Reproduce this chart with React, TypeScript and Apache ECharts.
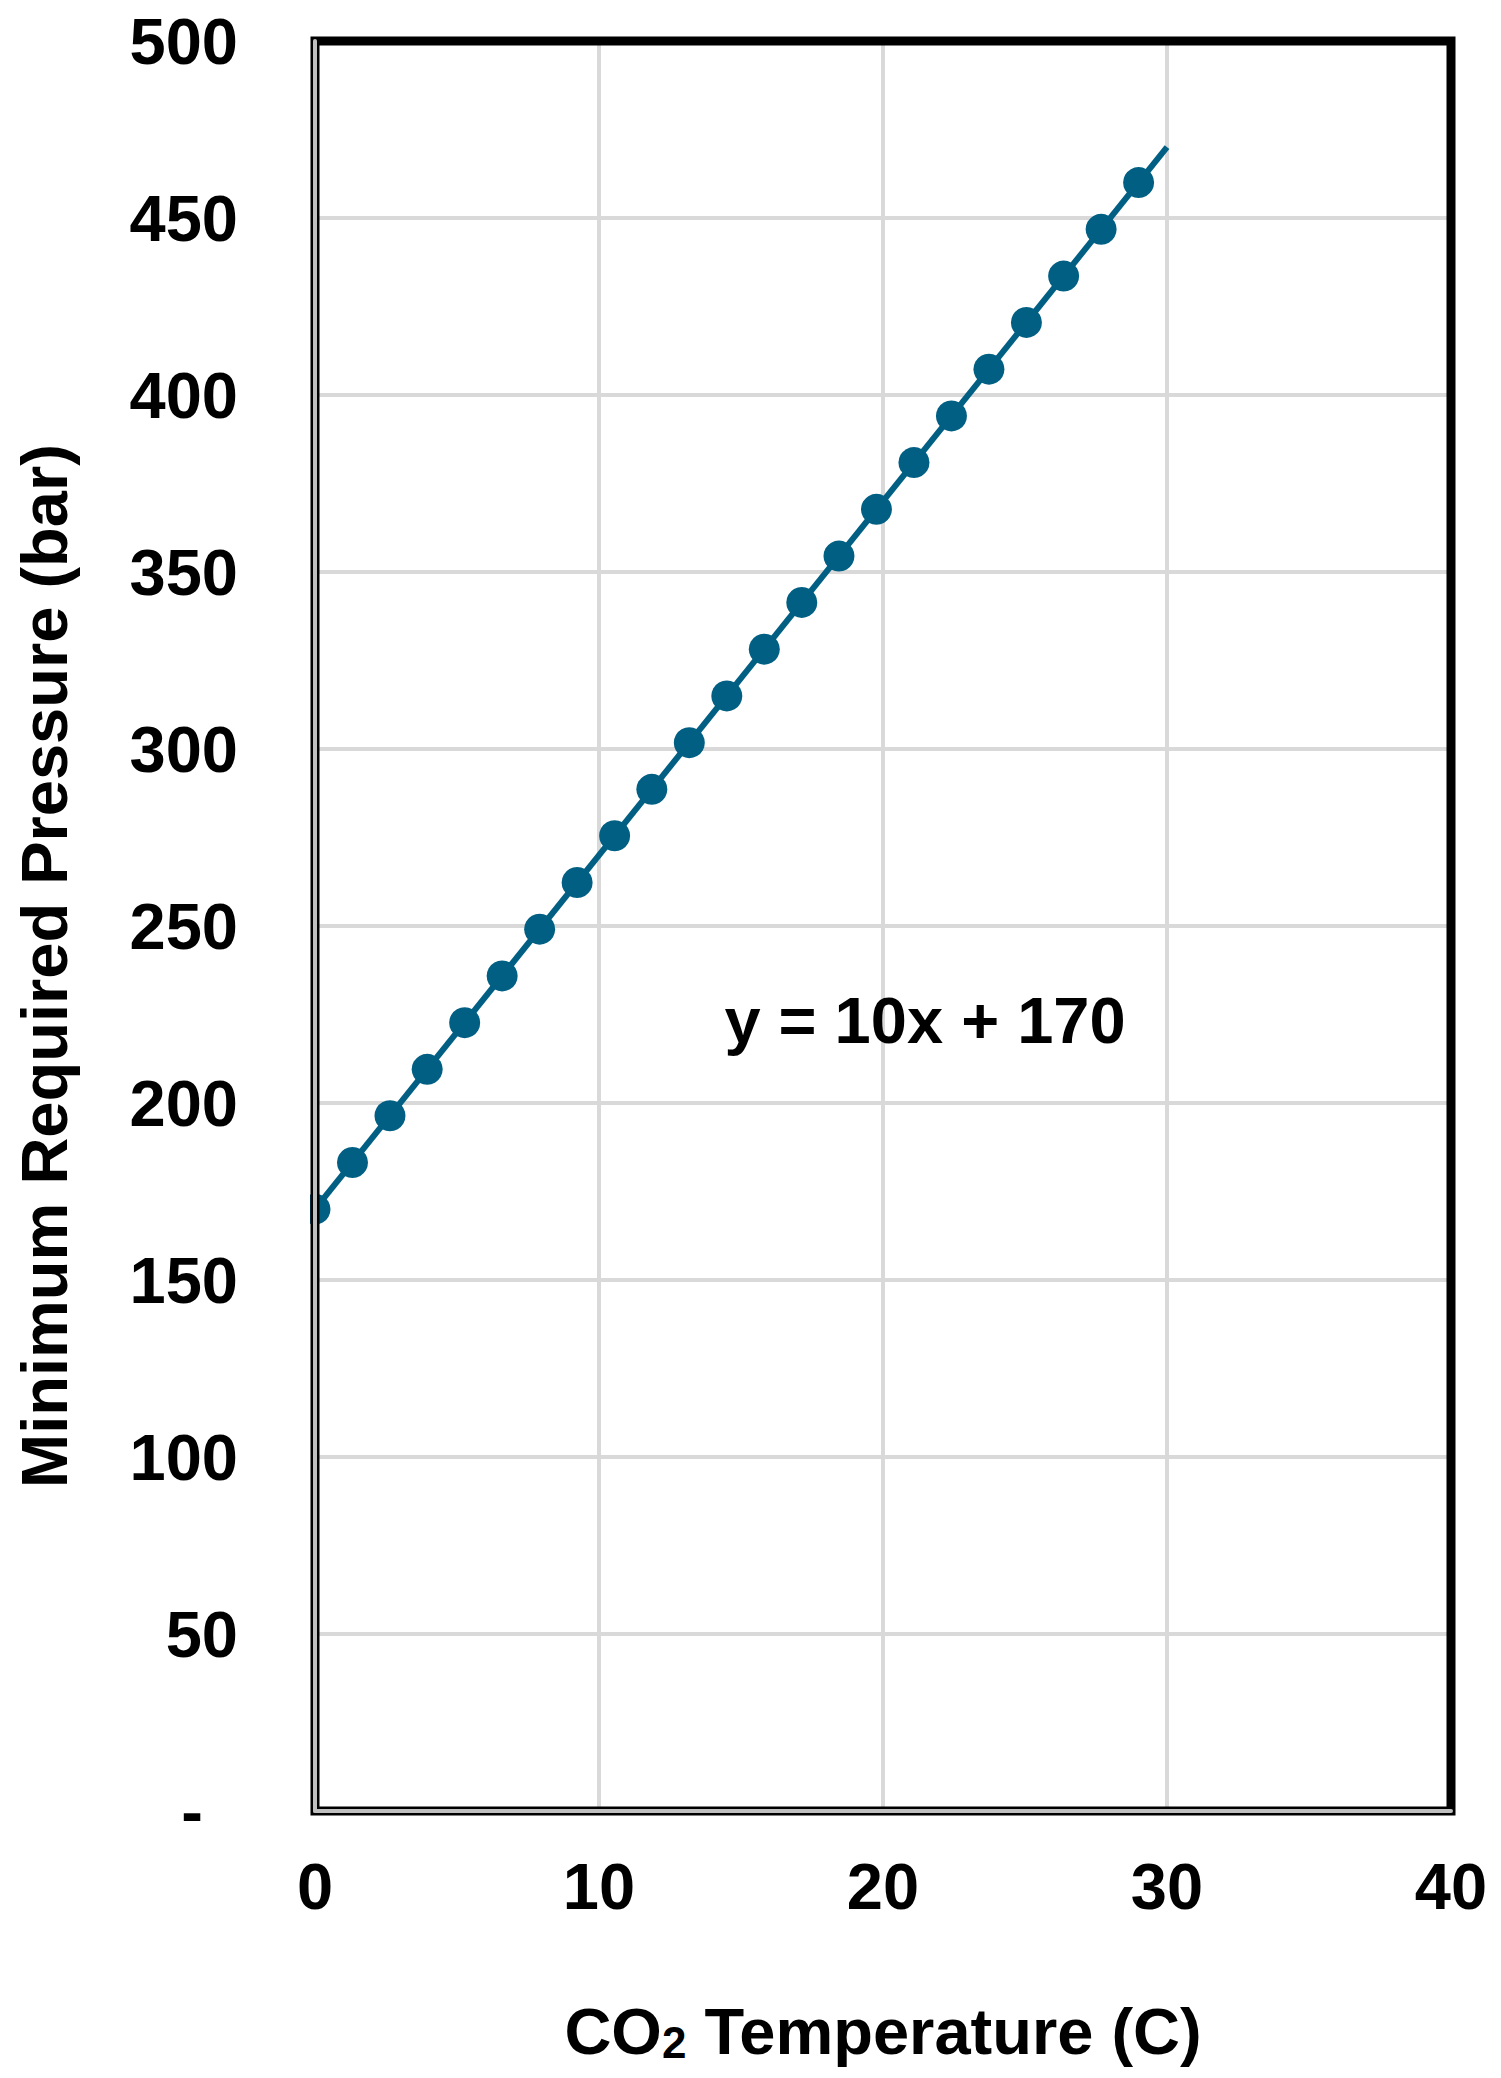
import React, { useEffect, useRef } from "react";
import * as echarts from "echarts";

// Data
const temperatureC = [0, 1.32, 2.64, 3.95, 5.27, 6.59, 7.91, 9.23, 10.55, 11.86, 13.18, 14.5, 15.82, 17.14, 18.45, 19.77, 21.09, 22.41, 23.73, 25.05, 26.36, 27.68, 29];
const pressureBar = [170, 183.2, 196.4, 209.5, 222.7, 235.9, 249.1, 262.3, 275.5, 288.6, 301.8, 315, 328.2, 341.4, 354.5, 367.7, 380.9, 394.1, 407.3, 420.5, 433.6, 446.8, 460];
const trendX = [0, 30];
const trendY = [170, 470];
const xTicks = { min: 0, max: 40, interval: 10 };
const yTicks = { min: 0, max: 500, interval: 50 };
const equationText = "y = 10x + 170";
const yTitle = "Minimum Required Pressure (bar)";

const FONT = '"Liberation Sans", Arial, Helvetica, sans-serif';
const BLUE = "#005F83";

export default function App() {
  const ref = useRef<HTMLDivElement>(null);
  useEffect(() => {
    document.body.style.margin = "0";
    const chart = echarts.init(ref.current!, null, { renderer: "svg" });
    const pts = temperatureC.map((x, i) => [x, pressureBar[i]]);
    const trend = trendX.map((x, i) => [x, trendY[i]]);
    const grayAxisLine = { show: true, onZero: false, lineStyle: { color: "#bfbfbf", width: 4 } };
    chart.setOption({
      animation: false,
      backgroundColor: "#ffffff",
      grid: {
        left: 315,
        right: 50,
        top: 41,
        bottom: 267,
        show: true,
        borderColor: "#000000",
        borderWidth: 9,
        backgroundColor: "transparent",
        z: 5,
      },
      xAxis: [
        {
          type: "value",
          min: xTicks.min,
          max: xTicks.max,
          interval: xTicks.interval,
          name: "{a|CO}{s|2}{a| Temperature (C)}",
          nameLocation: "middle",
          nameGap: 188,
          nameTextStyle: {
            rich: {
              a: { fontSize: 65, fontWeight: "bold", fontFamily: FONT, color: "#000", lineHeight: 65, verticalAlign: "bottom" },
              s: { fontSize: 44, fontWeight: "bold", fontFamily: FONT, color: "#000", lineHeight: 44, verticalAlign: "bottom" },
            },
          },
          axisLine: { show: false },
          axisTick: { show: false },
          axisLabel: { fontSize: 65, fontWeight: "bold", fontFamily: FONT, color: "#000", margin: 43 },
          splitLine: { show: true, showMinLine: false, showMaxLine: false, lineStyle: { color: "#d9d9d9", width: 4 } },
          z: 1,
        },
        {
          type: "value",
          position: "bottom",
          min: xTicks.min,
          max: xTicks.max,
          interval: xTicks.interval,
          axisLine: grayAxisLine,
          axisTick: { show: false },
          axisLabel: { show: false },
          splitLine: { show: false },
          z: 8,
        },
      ],
      yAxis: [
        {
          type: "value",
          min: yTicks.min,
          max: yTicks.max,
          interval: yTicks.interval,
          axisLine: { show: false },
          axisTick: { show: false },
          axisLabel: {
            fontSize: 65,
            fontWeight: "bold",
            fontFamily: FONT,
            color: "#000",
            margin: 77,
            formatter: (v: number) => (v === 0 ? "{d|-}" : String(v)),
            rich: {
              d: { fontSize: 65, fontWeight: "bold", fontFamily: FONT, color: "#000", padding: [0, 35, 0, 0] },
            },
          },
          splitLine: { show: true, showMinLine: false, showMaxLine: false, lineStyle: { color: "#d9d9d9", width: 4 } },
          z: 1,
        },
        {
          type: "value",
          position: "left",
          min: yTicks.min,
          max: yTicks.max,
          interval: yTicks.interval,
          axisLine: grayAxisLine,
          axisTick: { show: false },
          axisLabel: { show: false },
          splitLine: { show: false },
          z: 8,
        },
      ],
      series: [
        {
          type: "line",
          xAxisIndex: 0,
          yAxisIndex: 0,
          data: trend,
          showSymbol: false,
          symbol: "none",
          lineStyle: { color: BLUE, width: 6 },
          z: 2,
          clip: true,
        },
        {
          type: "scatter",
          xAxisIndex: 0,
          yAxisIndex: 0,
          data: pts,
          symbol: "circle",
          symbolSize: 31,
          itemStyle: { color: BLUE, opacity: 1 },
          z: 2,
          clip: true,
        },
      ],
      graphic: [
        {
          type: "rect",
          left: 290,
          top: 1170,
          shape: { width: 20, height: 80 },
          style: { fill: "#ffffff" },
          z: 20,
        },
        {
          type: "text",
          x: 925,
          y: 1020,
          style: {
            text: equationText,
            font: `bold 65px ${FONT}`,
            fill: "#000",
            align: "center",
            verticalAlign: "middle",
          },
          z: 10,
        },
        {
          type: "text",
          x: 44,
          y: 966,
          rotation: Math.PI / 2,
          style: {
            text: yTitle,
            font: `bold 65px ${FONT}`,
            fill: "#000",
            align: "center",
            verticalAlign: "middle",
          },
          z: 10,
        },
      ],
    });
    return () => chart.dispose();
  }, []);
  return (
    <div
      ref={ref}
      style={{ position: "absolute", left: 0, top: 0, width: 1501, height: 2078 }}
    />
  );
}
